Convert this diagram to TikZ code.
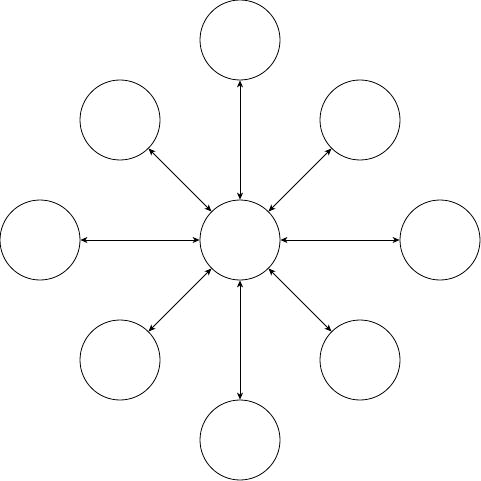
\documentclass[tikz,border=0pt]{standalone}
\usetikzlibrary{arrows.meta}
\begin{document}
\begin{tikzpicture}[x=1pt,y=-1pt,
  ball/.style={circle,draw,line width=0.8pt,minimum size=80pt,inner sep=0pt,fill=white},
  link/.style={line width=0.8pt,{Stealth[length=7pt,width=6pt,inset=2pt]}-{Stealth[length=7pt,width=6pt,inset=2pt]}}]
\useasboundingbox (0,0) rectangle (481,481);
\node[ball] (c) at (240,240) {};
\node[ball] (n) at (240,40) {};
\node[ball] (s) at (240,440) {};
\node[ball] (w) at (40,240) {};
\node[ball] (e) at (440,240) {};
\node[ball] (nw) at (120,120) {};
\node[ball] (ne) at (360,120) {};
\node[ball] (sw) at (120,360) {};
\node[ball] (se) at (360,360) {};
\foreach \o in {n,s,w,e,nw,ne,sw,se} \draw[link] (c) -- (\o);
\end{tikzpicture}
\end{document}
